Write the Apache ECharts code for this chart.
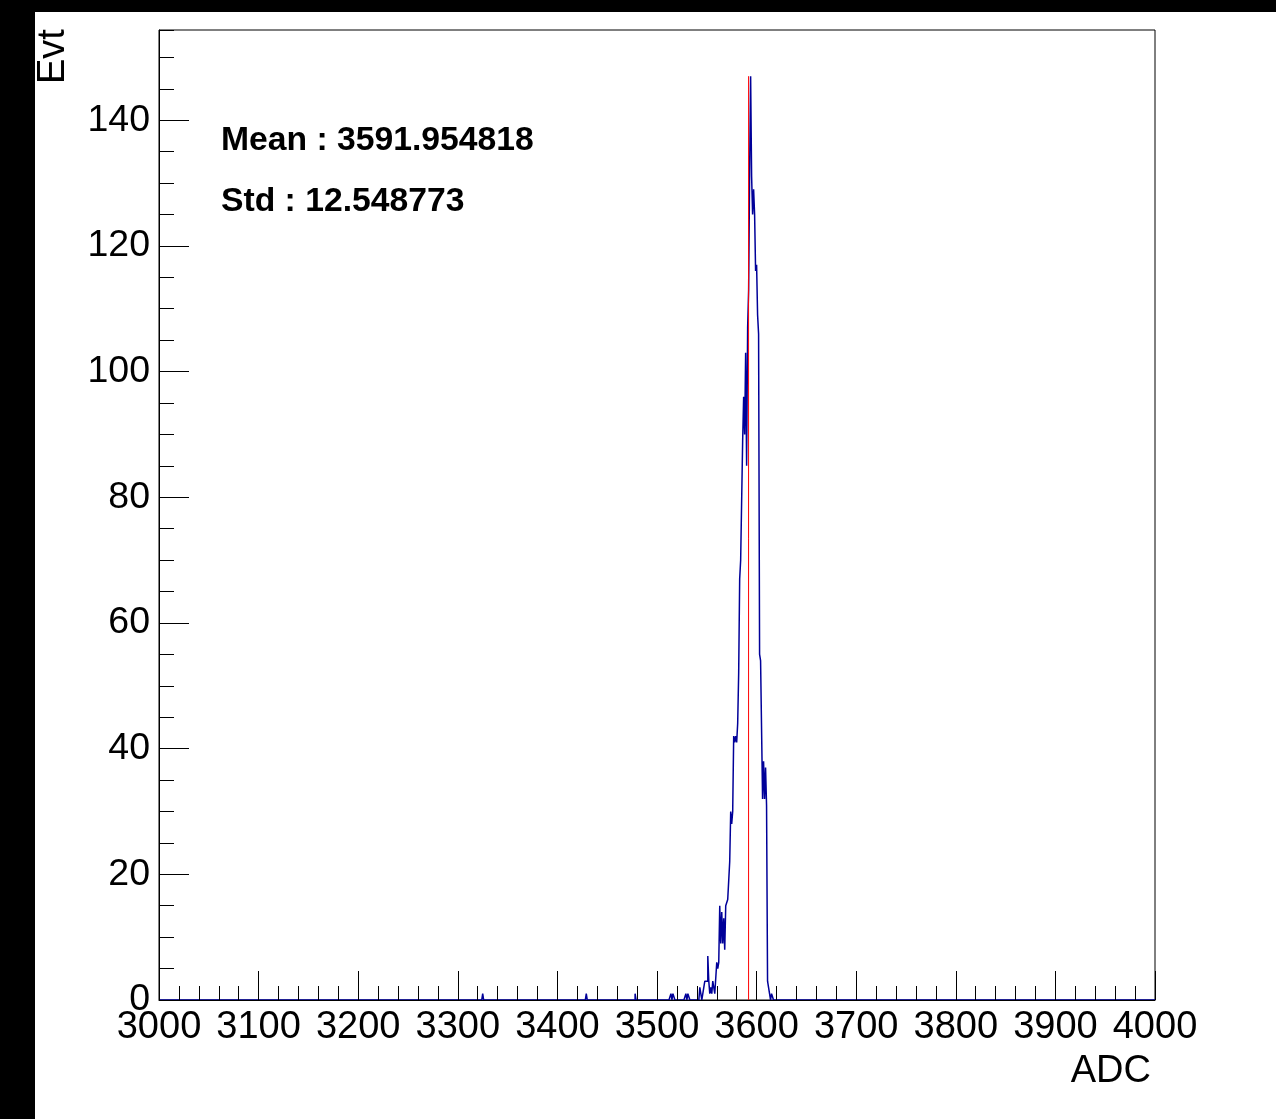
<!DOCTYPE html>
<html><head><meta charset="utf-8">
<script src="https://cdn.jsdelivr.net/npm/echarts@6/dist/echarts.min.js"></script>
<style>
html,body{margin:0;padding:0;background:#000;width:1276px;height:1119px;overflow:hidden}
#c{position:absolute;left:35px;top:12px;width:1241px;height:1107px;background:#fff}
</style></head><body><div id="c"></div>
<script>
// ---- data ----
const xTickValues = [3000, 3100, 3200, 3300, 3400, 3500, 3600, 3700, 3800, 3900, 4000];
const yTickValues = [0, 20, 40, 60, 80, 100, 120, 140];
const binWidth = 1;
// isolated single-count bins in the low tail
const tailBins = [3325, 3429, 3478, 3514, 3516, 3517, 3529, 3531, 3532];
const tailCounts = [1, 1, 1, 1, 1, 1, 1, 1, 1];
// contiguous peak region, starting at this bin
const peakFirstBin = 3542;
const peakCounts = [
  0, 2, 1, 0, 1, 1, 3, 3, 3, 7,          // 3542-3551
  3, 1, 2, 1, 3, 3, 1, 1, 6, 5,          // 3552-3561
  6, 15, 9, 14, 9, 13, 8, 15, 15, 16,    // 3562-3571
  19, 22, 30, 28, 30, 42, 41, 42, 41, 44,// 3572-3581
  52, 67, 70, 70, 89, 96, 90, 103, 85, 107, // 3582-3591
  113, 132, 147, 131, 125, 129, 125, 116, 117, 109, // 3592-3601
  106, 55, 54, 54, 32, 38, 32, 37, 31, 3, // 3602-3611
  2, 1, 0, 1, 1                          // 3612-3616
];
const meanValue = 3591.954818;
const stdValue = 12.548773;
const xTitle = 'ADC';
const yTitle = 'Evt';

// ---- build histogram ----
const adcMin = xTickValues[0], adcMax = xTickValues[xTickValues.length - 1];
const nBins = Math.round((adcMax - adcMin) / binWidth);
const counts = new Array(nBins).fill(0);
tailBins.forEach((b, i) => { counts[Math.round((b - adcMin) / binWidth)] += tailCounts[i]; });
peakCounts.forEach((c, i) => { counts[Math.round((peakFirstBin - adcMin) / binWidth) + i] = c; });
const stepData = counts.map((c, i) => [adcMin + i * binWidth, c]);
stepData.push([adcMax, counts[nBins - 1]]);
const maxCount = Math.max(...counts);
const yMax = maxCount * 1.05;
const meanLine = [[meanValue, 0], [meanValue, maxCount]];

const FONT = "'Liberation Sans', Arial, Helvetica, sans-serif";
const chart = echarts.init(document.getElementById('c'), null, {renderer: 'canvas'});
chart.setOption({
  animation: false,
  backgroundColor: '#fff',
  grid: {left: 124, right: 121, top: 18, bottom: 119, show: true, borderColor: '#000', borderWidth: 1, backgroundColor: 'transparent'},
  xAxis: {
    type: 'value', min: adcMin, max: adcMax, interval: xTickValues[1] - xTickValues[0],
    z: 4,
    axisLine: {show: true, onZero: false, lineStyle: {color: '#000', width: 1}},
    axisTick: {show: true, inside: true, length: 29, lineStyle: {color: '#000', width: 1}},
    minorTick: {show: true, splitNumber: 5, length: 14, lineStyle: {color: '#000', width: 1}},
    axisLabel: {color: '#000', fontFamily: FONT, fontSize: 38, margin: 9,
      formatter: v => String(v)},
    splitLine: {show: false}
  },
  yAxis: [{
    type: 'value', min: 0, max: yMax, interval: yTickValues[1] - yTickValues[0],
    z: 4,
    axisLine: {show: true, lineStyle: {color: '#000', width: 1}},
    axisTick: {show: true, inside: true, length: 30, lineStyle: {color: '#000', width: 1}},
    axisLabel: {color: '#000', fontFamily: FONT, fontSize: 37.5, margin: 9, showMaxLabel: false,
      formatter: v => (yTickValues.indexOf(v) >= 0 ? String(v) : '')},
    splitLine: {show: false}
  }, {
    type: 'value', min: 0, max: yMax, interval: (yTickValues[1] - yTickValues[0]) / 4, position: 'left',
    z: 4,
    axisLine: {show: false},
    axisTick: {show: true, inside: true, length: 15, lineStyle: {color: '#000', width: 1}},
    axisLabel: {show: false},
    splitLine: {show: false}
  }],
  series: [{
    type: 'line', step: 'end', data: stepData, symbol: 'none', yAxisIndex: 0,
    lineStyle: {color: '#000099', width: 1.5}, z: 2, silent: true
  }, {
    type: 'line', data: meanLine, symbol: 'none', yAxisIndex: 0,
    lineStyle: {color: '#ff0000', width: 1}, z: 3, silent: true
  }],
  graphic: [
    {type: 'text', left: 186, top: 112, style: {text: 'Mean : ' + meanValue.toFixed(6), font: 'bold 33.7px ' + FONT, fill: '#000'}},
    {type: 'text', left: 186, top: 173, style: {text: 'Std : ' + stdValue.toFixed(6), font: 'bold 33.7px ' + FONT, fill: '#000'}},
    {type: 'text', right: 125, top: 1041, style: {text: xTitle, font: '38px ' + FONT, fill: '#000'}},
    {type: 'text', x: 0, y: 72, rotation: Math.PI / 2, style: {text: yTitle, font: '38px ' + FONT, fill: '#000', align: 'left', verticalAlign: 'top'}}
  ]
});
</script></body></html>
